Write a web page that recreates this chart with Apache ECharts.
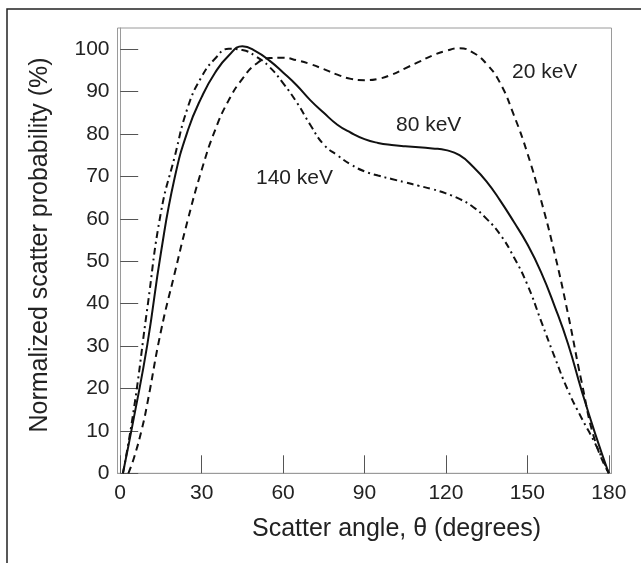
<!DOCTYPE html>
<html>
<head>
<meta charset="utf-8">
<script src="https://cdn.jsdelivr.net/npm/echarts@6/dist/echarts.min.js"></script>
<style>
html,body{margin:0;padding:0;background:#fff;}
#chart{width:641px;height:563px;}
</style>
</head>
<body>
<div id="chart"></div>
<script>
// Tick labels
const xTicks = [0, 30, 60, 90, 120, 150, 180];
const yTicks = [0, 10, 20, 30, 40, 50, 60, 70, 80, 90, 100];

// 20 keV (dashed)
const angle20 = [3, 5, 8, 10, 15, 20, 25, 30, 35, 40, 45, 50, 55, 60, 65, 70, 75, 80, 85, 90, 95, 100, 105, 110, 115, 120, 125, 130, 135, 140, 145, 150, 155, 160, 165, 170, 175, 180];
const prob20 = [0, 3.5, 10.5, 16.5, 33.5, 47, 60, 71.5, 81, 88, 93, 96.5, 97.9, 98, 97.4, 96.5, 95.3, 94, 93, 92.7, 93, 94, 95.5, 97, 98.5, 99.6, 100.2, 99.2, 96.5, 92, 84.5, 75.5, 64.5, 52, 37.5, 21.5, 7.5, 0];

// 80 keV (solid)
const angle80 = [1, 5, 10, 15, 20, 25, 30, 35, 40, 45, 50, 55, 60, 65, 70, 75, 80, 85, 90, 95, 100, 105, 110, 115, 120, 125, 130, 135, 140, 145, 150, 155, 160, 165, 170, 175, 180];
const prob80 = [0, 13, 30.4, 52, 69.5, 81, 88.7, 94.5, 98.5, 100.7, 99.5, 97.3, 94.5, 91.5, 88, 85, 82.2, 80.3, 78.8, 77.9, 77.4, 77.1, 76.9, 76.6, 76.2, 75, 72.3, 68.8, 64.3, 59.3, 54, 47.5, 39.5, 30.5, 19.5, 9.3, 0];

// 140 keV (dash-dot)
const angle140 = [1, 5, 10, 15, 20, 25, 30, 35, 40, 45, 50, 55, 60, 65, 70, 75, 80, 85, 90, 95, 100, 105, 110, 115, 120, 125, 130, 135, 140, 145, 150, 155, 160, 165, 170, 175, 180];
const prob140 = [0, 15, 39, 61.5, 74.5, 86.5, 93.5, 97.8, 100.1, 99.8, 98.3, 95.8, 92, 87.5, 82.2, 77.5, 75, 72.8, 71.2, 70.2, 69.4, 68.6, 67.8, 67, 66, 64.7, 62.8, 60, 56.3, 51, 44.5, 36, 27.5, 19.5, 13, 7, 0];

const seriesNames = ['20 keV', '80 keV', '140 keV'];

const FONT = '"Liberation Sans", Arial, Helvetica, sans-serif';
const zip = (a, b) => a.map((v, i) => [v, b[i]]);

const chart = echarts.init(document.getElementById('chart'), null, {renderer: 'canvas'});
const lineColor = '#111';

chart.setOption({
  backgroundColor: '#fff',
  animation: false,
  grid: {
    left: 117.5, right: 29.5, top: 28, bottom: 89.7,
    show: true, borderColor: '#9a9a9a', borderWidth: 1, containLabel: false
  },
  xAxis: {
    type: 'value', min: -1, max: 181,
    axisLine: {show: true, lineStyle: {color: '#9a9a9a', width: 1}},
    axisTick: {show: true, inside: true, length: 18, customValues: xTicks, lineStyle: {color: '#555', width: 1}},
    axisLabel: {customValues: xTicks, color: '#222', fontSize: 21, fontFamily: FONT, margin: 9},
    splitLine: {show: false}
  },
  yAxis: {
    type: 'value', min: 0, max: 105,
    axisLine: {show: true, lineStyle: {color: '#9a9a9a', width: 1}},
    axisTick: {show: true, inside: true, length: 18, customValues: yTicks, lineStyle: {color: '#555', width: 1}},
    axisLabel: {customValues: yTicks, color: '#222', fontSize: 21, fontFamily: FONT, margin: 8},
    splitLine: {show: false}
  },
  series: [
    {
      name: seriesNames[0], type: 'line', data: zip(angle20, prob20), smooth: 0.5,
      symbol: 'none', lineStyle: {color: lineColor, width: 2, type: [7, 5]}
    },
    {
      name: seriesNames[1], type: 'line', data: zip(angle80, prob80), smooth: 0.5,
      symbol: 'none', lineStyle: {color: lineColor, width: 2, type: 'solid'}
    },
    {
      name: seriesNames[2], type: 'line', data: zip(angle140, prob140), smooth: 0.5,
      symbol: 'none', lineStyle: {color: lineColor, width: 2, type: [7, 4, 2, 4]}
    }
  ],
  graphic: [
    {type: 'polyline', shape: {points: [[7, 563], [7, 9], [641, 9]]}, style: {stroke: '#222', lineWidth: 1.5, fill: null}},
    {type: 'text', x: 40, y: 245, rotation: Math.PI / 2,
      style: {text: 'Normalized scatter probability (%)', font: '25px ' + FONT, fill: '#222', align: 'center', verticalAlign: 'middle'}},
    {type: 'text', x: 252, y: 529,
      style: {text: 'Scatter angle, \u03b8 (degrees)', font: '25px ' + FONT, fill: '#222', align: 'left', verticalAlign: 'middle'}},
    {type: 'text', x: 512, y: 72, style: {text: seriesNames[0], font: '21px ' + FONT, fill: '#222', align: 'left', verticalAlign: 'middle'}},
    {type: 'text', x: 396, y: 125, style: {text: seriesNames[1], font: '21px ' + FONT, fill: '#222', align: 'left', verticalAlign: 'middle'}},
    {type: 'text', x: 256, y: 178, style: {text: seriesNames[2], font: '21px ' + FONT, fill: '#222', align: 'left', verticalAlign: 'middle'}}
  ]
});
</script>
</body>
</html>
